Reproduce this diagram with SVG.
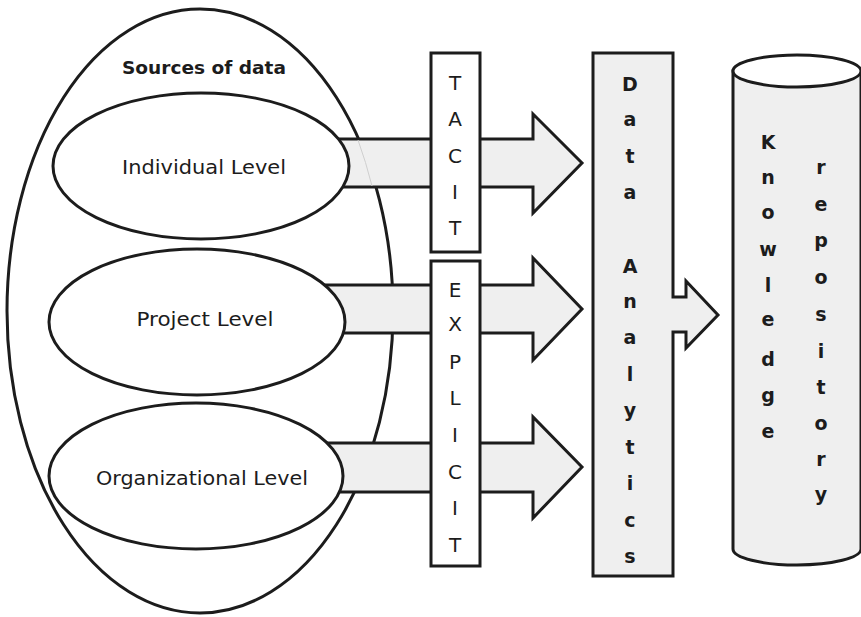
<svg xmlns="http://www.w3.org/2000/svg" width="861" height="617" viewBox="0 0 861 617">
  <style>
    .ln { stroke: #1c1c1c; stroke-width: 3; stroke-linejoin: miter; }
    .shade { fill: #efefef; }
    .blank { fill: #ffffff; }
    .lbl { font-family: "DejaVu Sans", "Liberation Sans", sans-serif; fill: #1c1c1c; text-anchor: middle; }
    .lvl { font-size: 19px; }
    .cap { font-size: 20px; }
    .bold { font-weight: bold; font-size: 19px; }
    .title { font-weight: bold; font-size: 18px; }
  </style>

  <rect width="861" height="617" fill="#ffffff"/>

  <!-- container for the three source levels -->
  <g id="sources">
    <ellipse class="ln" cx="200" cy="311" rx="193" ry="302" fill="none"/>
    <text class="lbl title" x="204" y="74" textLength="164" lengthAdjust="spacingAndGlyphs">Sources of data</text>
  </g>

  <!-- connectors: flow arrows -->
  <g id="connectors">
    <polygon class="ln shade" points="300,139 533,139 533,114 582,163 533,213 533,187 300,187"/>
    <path d="M358,140 Q366,162 372,186" fill="none" stroke="#cfcfcf" stroke-width="1"/>
    <polygon class="ln shade" points="300,285 533,285 533,258 582,309 533,360 533,333 300,333"/>
    <polygon class="ln shade" points="300,443 533,443 533,417 582,467 533,518 533,492 300,492"/>
  </g>

  <g id="individual">
    <ellipse class="ln blank" cx="201" cy="166" rx="148" ry="73"/>
    <text class="lbl lvl" x="204" y="174" textLength="164" lengthAdjust="spacingAndGlyphs">Individual Level</text>
  </g>

  <g id="project">
    <ellipse class="ln blank" cx="197" cy="322" rx="148" ry="73"/>
    <text class="lbl lvl" x="205" y="326" textLength="137" lengthAdjust="spacingAndGlyphs">Project Level</text>
  </g>

  <g id="organizational">
    <ellipse class="ln blank" cx="196" cy="476" rx="147" ry="73"/>
    <text class="lbl lvl" x="202" y="485" textLength="212" lengthAdjust="spacingAndGlyphs">Organizational Level</text>
  </g>

  <g id="tacit">
    <rect class="ln blank" x="431" y="53" width="49" height="199"/>
    <g class="lbl cap">
      <text x="455" y="90">T</text>
      <text x="455" y="126">A</text>
      <text x="455" y="163">C</text>
      <text x="455" y="199">I</text>
      <text x="455" y="235">T</text>
    </g>
  </g>

  <g id="explicit">
    <rect class="ln blank" x="431" y="261" width="49" height="305"/>
    <g class="lbl cap">
      <text x="455" y="297">E</text>
      <text x="455" y="331">X</text>
      <text x="455" y="369">P</text>
      <text x="455" y="405">L</text>
      <text x="455" y="442">I</text>
      <text x="455" y="479">C</text>
      <text x="455" y="515">I</text>
      <text x="455" y="552">T</text>
    </g>
  </g>

  <g id="data-analytics">
    <polygon class="ln shade" points="593,53 673,53 673,297 686,297 686,281 718,315 686,348 686,332 673,332 673,576 593,576"/>
    <g class="lbl bold">
      <text x="630" y="91">D</text>
      <text x="630" y="126">a</text>
      <text x="630" y="163">t</text>
      <text x="630" y="199">a</text>
      <text x="630" y="273">A</text>
      <text x="630" y="308">n</text>
      <text x="630" y="344">a</text>
      <text x="630" y="381">l</text>
      <text x="630" y="417">y</text>
      <text x="630" y="454">t</text>
      <text x="630" y="490">i</text>
      <text x="630" y="527">c</text>
      <text x="630" y="563">s</text>
    </g>
  </g>

  <g id="knowledge-repository">
    <path class="ln shade" d="M733,71 L733,549 A64,16 0 0 0 861,549 L861,71 Z"/>
    <ellipse class="ln blank" cx="797" cy="71" rx="64" ry="16"/>
    <g class="lbl bold">
      <text x="768" y="149">K</text>
      <text x="768" y="184">n</text>
      <text x="768" y="219">o</text>
      <text x="768" y="256">w</text>
      <text x="768" y="292">l</text>
      <text x="768" y="326">e</text>
      <text x="768" y="366">d</text>
      <text x="768" y="402">g</text>
      <text x="768" y="438">e</text>
      <text x="821" y="174">r</text>
      <text x="821" y="211">e</text>
      <text x="821" y="247">p</text>
      <text x="821" y="284">o</text>
      <text x="821" y="321">s</text>
      <text x="821" y="358">i</text>
      <text x="821" y="394">t</text>
      <text x="821" y="430">o</text>
      <text x="821" y="466">r</text>
      <text x="821" y="501">y</text>
    </g>
  </g>
</svg>
